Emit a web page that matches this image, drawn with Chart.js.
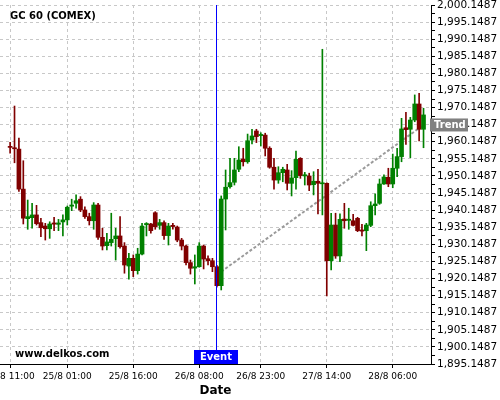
<!DOCTYPE html>
<html lang="en">
<head>
<meta charset="UTF-8">
<style>
  * { margin: 0; padding: 0; }
  body { background: #fff; }
  #chart { display: block; }
</style>
</head>
<body>
<canvas id="chart" width="500" height="400"></canvas>
<script src="https://cdn.jsdelivr.net/npm/chart.js"></script>
<script>
// hourly candles, index 0 = 24/8 11:00
const opens = [1958.8, 1958.4, 1958.0, 1946.3, 1937.65, 1937.95, 1938.75, 1936.5, 1935.5, 1934.7,
  1936.4, 1936.0, 1936.7, 1937.3, 1941.3, 1942.15, 1943.35, 1940.2, 1938.25, 1937.05,
  1941.65, 1932.2, 1929.75, 1930.65, 1931.8, 1932.6, 1929.65, 1923.8, 1926.05, 1922.45,
  1927.3, 1935.9, 1936.1, 1939.4, 1935.7, 1936.5, 1932.7, 1935.7, 1935.2, 1931.4,
  1929.65, 1924.8, 1923.2, 1923.6, 1929.65, 1925.95, 1925.35, 1923.6, 1918.05, 1943.4,
  1947.0, 1948.3, 1952.1, 1955.1, 1954.3, 1960.65, 1963.3, 1961.95, 1962.1, 1958.25,
  1952.7, 1948.95, 1951.1, 1951.9, 1948.0, 1949.65, 1955.3, 1950.15, 1950.15, 1947.6,
  1948.6, 1947.85, 1948.0, 1925.35, 1935.8, 1926.75, 1937.55, 1937.15, 1937.05, 1937.75,
  1934.35, 1934.15, 1935.7, 1941.45, 1942.15, 1947.8, 1949.75, 1947.8, 1952.4, 1955.8,
  1964.25, 1963.8, 1966.5, 1971.2, 1963.8];
const highs = [1960.0, 1970.6, 1961.2, 1954.6, 1943.1, 1942.15, 1941.55, 1937.75, 1936.3, 1936.75,
  1938.05, 1937.45, 1938.75, 1941.35, 1943.35, 1944.6, 1944.1, 1941.15, 1939.25, 1942.35,
  1942.15, 1934.85, 1933.4, 1939.25, 1934.85, 1938.25, 1930.65, 1927.55, 1927.05, 1929.0,
  1936.3, 1936.5, 1936.3, 1939.7, 1937.45, 1937.05, 1936.3, 1936.3, 1935.5, 1931.9,
  1929.95, 1925.55, 1927.05, 1930.65, 1929.95, 1926.8, 1926.05, 1924.0, 1944.3, 1951.9,
  1955.3, 1955.3, 1958.7, 1958.25, 1962.4, 1963.8, 1963.8, 1962.8, 1962.65, 1958.7,
  1955.3, 1952.85, 1952.7, 1953.55, 1951.7, 1957.45, 1955.5, 1951.2, 1950.95, 1951.4,
  1952.1, 1987.2, 1948.15, 1939.25, 1939.25, 1939.05, 1942.15, 1940.7, 1938.95, 1938.05,
  1936.0, 1936.3, 1942.6, 1944.9, 1949.25, 1950.45, 1952.4, 1956.55, 1958.25, 1967.0,
  1968.75, 1967.3, 1973.85, 1974.35, 1969.95];
const lows = [1956.8, 1954.0, 1945.6, 1936.1, 1934.55, 1934.85, 1935.8, 1932.4, 1931.4, 1931.9,
  1934.15, 1934.15, 1932.6, 1935.8, 1940.0, 1940.7, 1939.7, 1937.75, 1935.8, 1934.55,
  1931.6, 1928.5, 1928.5, 1929.65, 1925.55, 1929.0, 1921.7, 1919.95, 1920.7, 1921.45,
  1927.05, 1932.6, 1933.4, 1934.55, 1934.55, 1931.6, 1929.95, 1934.55, 1930.9, 1928.5,
  1924.1, 1921.45, 1918.55, 1923.45, 1922.95, 1924.1, 1922.15, 1917.65, 1916.8, 1934.35,
  1946.55, 1947.5, 1951.4, 1953.05, 1953.85, 1959.5, 1959.9, 1958.9, 1956.0, 1952.4,
  1946.25, 1948.0, 1948.45, 1946.05, 1944.3, 1946.25, 1949.45, 1947.5, 1945.85, 1944.6,
  1939.05, 1938.75, 1915.05, 1922.65, 1926.05, 1925.05, 1934.85, 1934.55, 1935.5, 1933.85,
  1932.6, 1928.3, 1935.3, 1938.75, 1941.85, 1947.7, 1947.0, 1946.7, 1949.95, 1954.3,
  1959.4, 1955.5, 1966.0, 1960.4, 1958.4];
const closes = [1958.5, 1958.1, 1946.3, 1937.8, 1938.25, 1938.75, 1936.2, 1935.0, 1934.7, 1936.1,
  1936.05, 1936.4, 1937.3, 1941.0, 1941.65, 1942.9, 1940.2, 1938.25, 1937.05, 1941.65,
  1932.2, 1929.65, 1930.85, 1931.6, 1932.6, 1929.45, 1924.1, 1926.05, 1922.45, 1927.3,
  1935.5, 1936.25, 1934.15, 1935.3, 1936.5, 1932.7, 1935.5, 1935.35, 1931.4, 1929.65,
  1924.8, 1923.15, 1923.6, 1929.65, 1925.85, 1925.35, 1923.6, 1918.05, 1943.4, 1946.85,
  1948.2, 1951.9, 1954.8, 1954.3, 1960.45, 1961.85, 1961.65, 1962.3, 1958.25, 1952.7,
  1948.95, 1951.1, 1952.1, 1948.0, 1949.55, 1955.0, 1950.25, 1950.5, 1947.5, 1948.6,
  1948.0, 1948.15, 1925.35, 1935.8, 1926.75, 1937.45, 1937.05, 1937.5, 1935.7, 1934.15,
  1934.0, 1935.8, 1941.45, 1941.95, 1947.8, 1949.85, 1947.8, 1952.4, 1955.8, 1963.9,
  1963.7, 1966.5, 1971.2, 1963.8, 1968.0];

const xTickIdx = [0, 13, 28, 43, 57, 72, 87];
const xTickLabels = ['24/8 11:00', '25/8 01:00', '25/8 16:00', '26/8 08:00', '26/8 23:00', '27/8 14:00', '28/8 06:00'];
const yTicks = [1895.1487, 1900.1487, 1905.1487, 1910.1487, 1915.1487, 1920.1487, 1925.1487, 1930.1487,
  1935.1487, 1940.1487, 1945.1487, 1950.1487, 1955.1487, 1960.1487, 1965.1487, 1970.1487,
  1975.1487, 1980.1487, 1985.1487, 1990.1487, 1995.1487, 2000.1487];

const eventIdx = 47;
const trendIdx = [48, 94];
const trendVals = [1922.15, 1965.06];

const UP = '#008000', DOWN = '#800000';
const candleColors = opens.map((o, i) => closes[i] >= o ? UP : DOWN);
const bodies = opens.map((o, i) => ({ x: i, y: [o, closes[i]] }));
const wicks = lows.map((l, i) => ({ x: i, y: [l, highs[i]] }));

function fmt(v) {
  return v.toLocaleString('en-US', { minimumFractionDigits: 4, maximumFractionDigits: 4 });
}

const overlay = {
  id: 'overlay',
  afterDatasetsDraw(chart) {
    const { ctx, chartArea, scales } = chart;
    const ex = Math.round(scales.x.getPixelForValue(eventIdx));
    ctx.save();
    ctx.fillStyle = '#0000ff';
    ctx.fillRect(ex - 1, chartArea.top, 1, chartArea.bottom - chartArea.top);
    ctx.restore();
  },
  afterDraw(chart) {
    const { ctx, chartArea, scales } = chart;
    ctx.save();
    ctx.font = 'bold 10px "DejaVu Sans"';
    ctx.fillStyle = '#000';
    ctx.textBaseline = 'alphabetic';
    ctx.textAlign = 'left';
    ctx.fillText('GC 60 (COMEX)', 10, 19);
    ctx.fillText('www.delkos.com', 15, 357);

    // event tag
    const ex = Math.round(scales.x.getPixelForValue(eventIdx));
    ctx.fillStyle = '#0000ff';
    ctx.fillRect(ex - 23, chartArea.bottom - 14, 44, 14);
    ctx.fillStyle = '#fff';
    ctx.textAlign = 'center';
    ctx.textBaseline = 'middle';
    ctx.fillText('Event', ex - 1, chartArea.bottom - 7);

    // trend tag on the right axis
    const ty = scales.y.getPixelForValue(trendVals[1]);
    ctx.fillStyle = '#808080';
    ctx.fillRect(chartArea.right - 1, ty - 6.5, 38, 13);
    ctx.fillStyle = '#fff';
    ctx.textAlign = 'left';
    ctx.fillText('Trend', chartArea.right + 3, ty);
    ctx.restore();
  }
};

new Chart('chart', {
  type: 'bar',
  data: {
    datasets: [{
      label: 'body',
      data: bodies,
      backgroundColor: candleColors,
      barThickness: 4,
      minBarLength: 1,
      grouped: false,
      order: 0
    }, {
      label: 'wick',
      data: wicks,
      backgroundColor: candleColors,
      barThickness: 1,
      grouped: false,
      order: 1
    }, {
      type: 'line',
      label: 'trend',
      data: trendIdx.map((x, i) => ({ x: x, y: trendVals[i] })),
      borderColor: '#9a9a9a',
      borderWidth: 2,
      borderDash: [3, 2],
      pointRadius: 0,
      order: 2
    }]
  },
  options: {
    responsive: false,
    animation: false,
    layout: { padding: { top: 5, left: 0, right: 0, bottom: 0 } },
    plugins: { legend: { display: false }, tooltip: { enabled: false } },
    scales: {
      x: {
        type: 'linear',
        min: -2.3,
        max: 95.7,
        offset: false,
        grid: { offset: false, color: '#c8c8c8', tickColor: '#000', tickLength: 4, tickBorderDash: [] },
        border: { color: '#000', width: 1, dash: [3, 3] },
        afterBuildTicks: (scale) => { scale.ticks = xTickIdx.map(v => ({ value: v })); },
        afterFit: (scale) => { scale.height = 36; scale.paddingLeft = 0; scale.paddingRight = 0; },
        ticks: {
          autoSkip: false,
          maxRotation: 0,
          padding: 3,
          color: '#000',
          font: { family: '"DejaVu Sans"', size: 9 },
          callback: (v, i) => xTickLabels[i]
        },
        title: {
          display: true,
          text: 'Date',
          color: '#000',
          font: { family: '"DejaVu Sans"', size: 12, weight: 'bold' },
          padding: { top: 0, bottom: 2 }
        }
      },
      y: {
        position: 'right',
        min: yTicks[0],
        max: yTicks[yTicks.length - 1],
        grid: {
          color: (c) => (c.tick && c.tick.minor) ? 'rgba(0,0,0,0)' : '#c8c8c8',
          tickColor: '#000', tickLength: 4, tickBorderDash: []
        },
        border: { color: '#000', width: 1, dash: [3, 3] },
        afterBuildTicks: (scale) => {
          const t = [];
          yTicks.forEach((v, i) => {
            t.push({ value: v });
            if (i < yTicks.length - 1) t.push({ value: (v + yTicks[i + 1]) / 2, minor: true });
          });
          scale.ticks = t;
        },
        afterFit: (scale) => { scale.width = 69; scale.paddingTop = 0; scale.paddingBottom = 0; },
        ticks: {
          autoSkip: false,
          padding: 2,
          color: '#000',
          font: { family: '"DejaVu Sans"', size: 10.5 },
          callback: (v, i, ticks) => ticks[i].minor ? '' : fmt(v)
        }
      }
    }
  },
  plugins: [overlay]
});
</script>
</body>
</html>
